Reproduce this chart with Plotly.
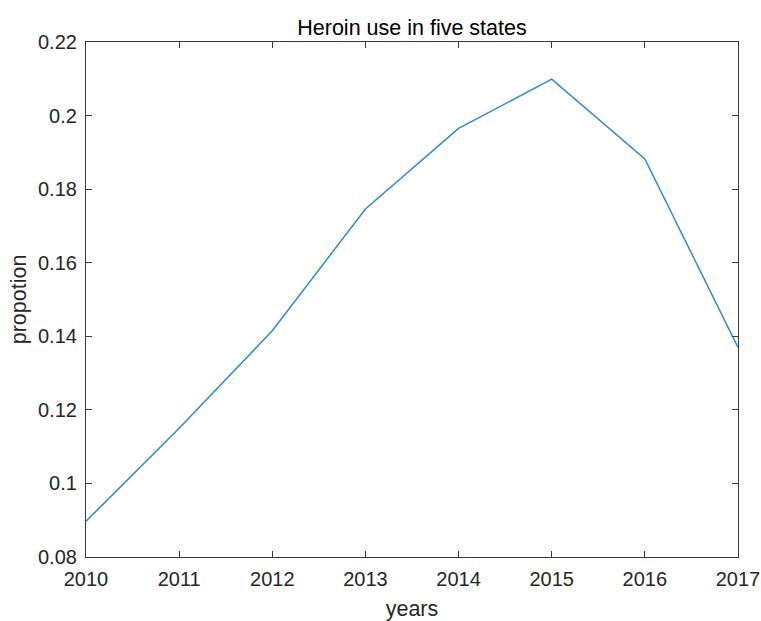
import plotly.graph_objects as go

# Proportion of heroin use across five states, by year
years = [2010, 2011, 2012, 2013, 2014, 2015, 2016, 2017]
proportion = [0.0897, 0.1150, 0.1415, 0.1746, 0.1965, 0.2099, 0.1882, 0.1370]

x_ticks = [2010, 2011, 2012, 2013, 2014, 2015, 2016, 2017]
y_ticks = [0.08, 0.10, 0.12, 0.14, 0.16, 0.18, 0.20, 0.22]
y_tick_text = ["0.08", "0.1", "0.12", "0.14", "0.16", "0.18", "0.2", "0.22"]

AX = "#262626"
FONT = "Liberation Sans, Arial, Helvetica, sans-serif"

fig = go.Figure()
fig.add_trace(go.Scatter(
    x=years, y=proportion, mode="lines",
    line=dict(color="#3088CE", width=1.5),
    showlegend=False, hoverinfo="skip",
))

axis_common = dict(
    showline=True, linecolor="#3a3a3a", linewidth=1.2, mirror="ticks",
    ticks="inside", ticklen=6, tickwidth=1, tickcolor="#3a3a3a",
    showgrid=False, zeroline=False, automargin=False,
    tickfont=dict(family=FONT, size=20, color=AX),
)

fig.update_layout(
    width=761, height=621,
    margin=dict(l=86, r=23, t=42, b=64),
    paper_bgcolor="white", plot_bgcolor="white",
    title=dict(text="Heroin use in five states", x=0.5, xanchor="center",
               xref="paper", y=1 - 27 / 621, yanchor="middle",
               font=dict(family=FONT, size=21.5, color="#000000")),
    xaxis=dict(range=[2010, 2017], tickvals=x_ticks,
               ticktext=[str(t) for t in x_ticks],
               ticklabelstandoff=4,
               title=dict(text="years", standoff=12,
                          font=dict(family=FONT, size=21.5, color=AX)),
               **axis_common),
    yaxis=dict(range=[0.08, 0.22], tickvals=y_ticks, ticktext=y_tick_text,
               ticklabelstandoff=4,
               title=dict(text="propotion", standoff=5,
                          font=dict(family=FONT, size=21.5, color=AX)),
               **axis_common),
)

fig.write_html("out.html")
